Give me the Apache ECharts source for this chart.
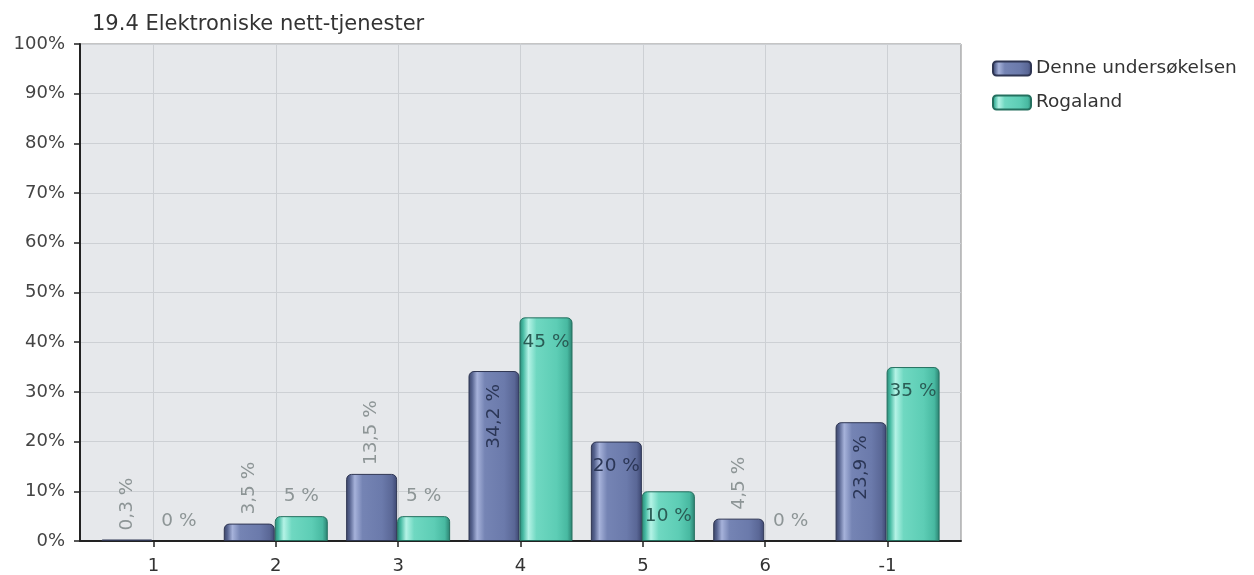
<!DOCTYPE html>
<html><head><meta charset="utf-8">
<script src="https://cdn.jsdelivr.net/npm/echarts@6/dist/echarts.min.js"></script>
<style>html,body{margin:0;padding:0;background:#fff}#c{width:1254px;height:575px}</style>
</head><body><div id="c"></div>
<script>
const chartTitle = '19.4 Elektroniske nett-tjenester';
const categories = ['1', '2', '3', '4', '5', '6', '-1'];
const seriesNames = ['Denne undersøkelsen', 'Rogaland'];
const denneValues = [0.3, 3.5, 13.5, 34.2, 20, 4.5, 23.9];
const rogalandValues = [0, 5, 5, 45, 10, 0, 35];

const FONT = 'DejaVu Sans';
const fmt = v => String(v).replace('.', ',') + ' %';
const catPos = categories.map((c, i) => i + 1);

function makeItems(values, insideMin, insideColor) {
  return values.map((v, i) => {
    const rotated = !Number.isInteger(v);
    const inside = v >= insideMin;
    let label;
    if (rotated && inside) {
      label = { position: 'insideTop', rotate: 90, align: 'right', verticalAlign: 'middle', distance: 13, color: insideColor };
    } else if (rotated) {
      label = { position: 'top', rotate: 90, align: 'left', verticalAlign: 'middle', distance: 9, color: '#8d9596' };
    } else if (inside) {
      label = { position: 'insideTop', distance: 15, color: insideColor };
    } else {
      label = { position: 'top', distance: 10, color: '#8d9596' };
    }
    const item = { value: [catPos[i], v], label: label };
    if (v === 0) item.itemStyle = { borderWidth: 0 };
    return item;
  });
}

const denneGrad = new echarts.graphic.LinearGradient(0, 0, 1, 0, [
  { offset: 0, color: '#3b4466' }, { offset: 0.07, color: '#56638f' },
  { offset: 0.17, color: '#a6b2da' }, { offset: 0.32, color: '#7584b4' },
  { offset: 0.7, color: '#6b7aab' }, { offset: 0.9, color: '#5a6796' },
  { offset: 1, color: '#3c4670' }
]);
const rogaGrad = new echarts.graphic.LinearGradient(0, 0, 1, 0, [
  { offset: 0, color: '#2a8676' }, { offset: 0.07, color: '#47bba3' },
  { offset: 0.17, color: '#b4f3e6' }, { offset: 0.32, color: '#6fd8c1' },
  { offset: 0.7, color: '#5dcdb5' }, { offset: 0.9, color: '#48b9a1' },
  { offset: 1, color: '#2a7f6f' }
]);

const chart = echarts.init(document.getElementById('c'), null, { renderer: 'canvas' });
chart.setOption({
  animation: false,
  backgroundColor: '#ffffff',
  title: {
    text: chartTitle, left: 87, top: 9,
    textStyle: { fontFamily: FONT, fontSize: 21, fontWeight: 'normal', color: '#333' }
  },
  legend: {
    orient: 'vertical', left: 987, top: 54,
    itemWidth: 38, itemHeight: 14, itemGap: 15,
    icon: 'roundRect',
    textStyle: { fontFamily: FONT, fontSize: 18.5, color: '#333' },
    data: seriesNames
  },
  grid: {
    left: 80, right: 293, top: 44, bottom: 34,
    show: true, backgroundColor: '#e6e8eb', borderColor: '#8a8a8a', borderWidth: 1
  },
  xAxis: {
    type: 'value', min: 0.4, max: 7.6,
    axisLine: { show: true, lineStyle: { color: '#222', width: 2 } },
    axisTick: { show: true, customValues: catPos, length: 6, lineStyle: { color: '#222', width: 1.5 } },
    axisLabel: {
      customValues: catPos, margin: 16,
      formatter: v => categories[Math.round(v) - 1],
      fontFamily: FONT, fontSize: 18, color: '#333'
    },
    splitLine: { show: true, lineStyle: { color: '#cdd0d4', width: 1 } }
  },
  yAxis: {
    type: 'value', min: 0, max: 100, interval: 10,
    axisLine: { show: true, lineStyle: { color: '#222', width: 2 } },
    axisTick: { show: true, length: 6, lineStyle: { color: '#222', width: 1.5 } },
    axisLabel: { formatter: '{value}%', margin: 15, fontFamily: FONT, fontSize: 18, color: '#444' },
    splitLine: { show: true, lineStyle: { color: '#cdd0d4', width: 1 } }
  },
  series: [
    {
      name: seriesNames[0], type: 'bar', barWidth: 51, barGap: '0%',
      itemStyle: { color: denneGrad, borderColor: '#2f3653', borderWidth: 1, borderRadius: [5, 5, 0, 0] },
      label: { show: true, formatter: p => fmt(p.value[1]), fontFamily: FONT, fontSize: 18.5 },
      data: makeItems(denneValues, 20, '#2b3656')
    },
    {
      name: seriesNames[1], type: 'bar', barWidth: 53, barGap: '0%',
      itemStyle: { color: rogaGrad, borderColor: '#24705f', borderWidth: 1, borderRadius: [5, 5, 0, 0] },
      label: { show: true, formatter: p => fmt(p.value[1]), fontFamily: FONT, fontSize: 18.5 },
      data: makeItems(rogalandValues, 10, '#2a5c55')
    }
  ]
});
</script>
</body></html>
